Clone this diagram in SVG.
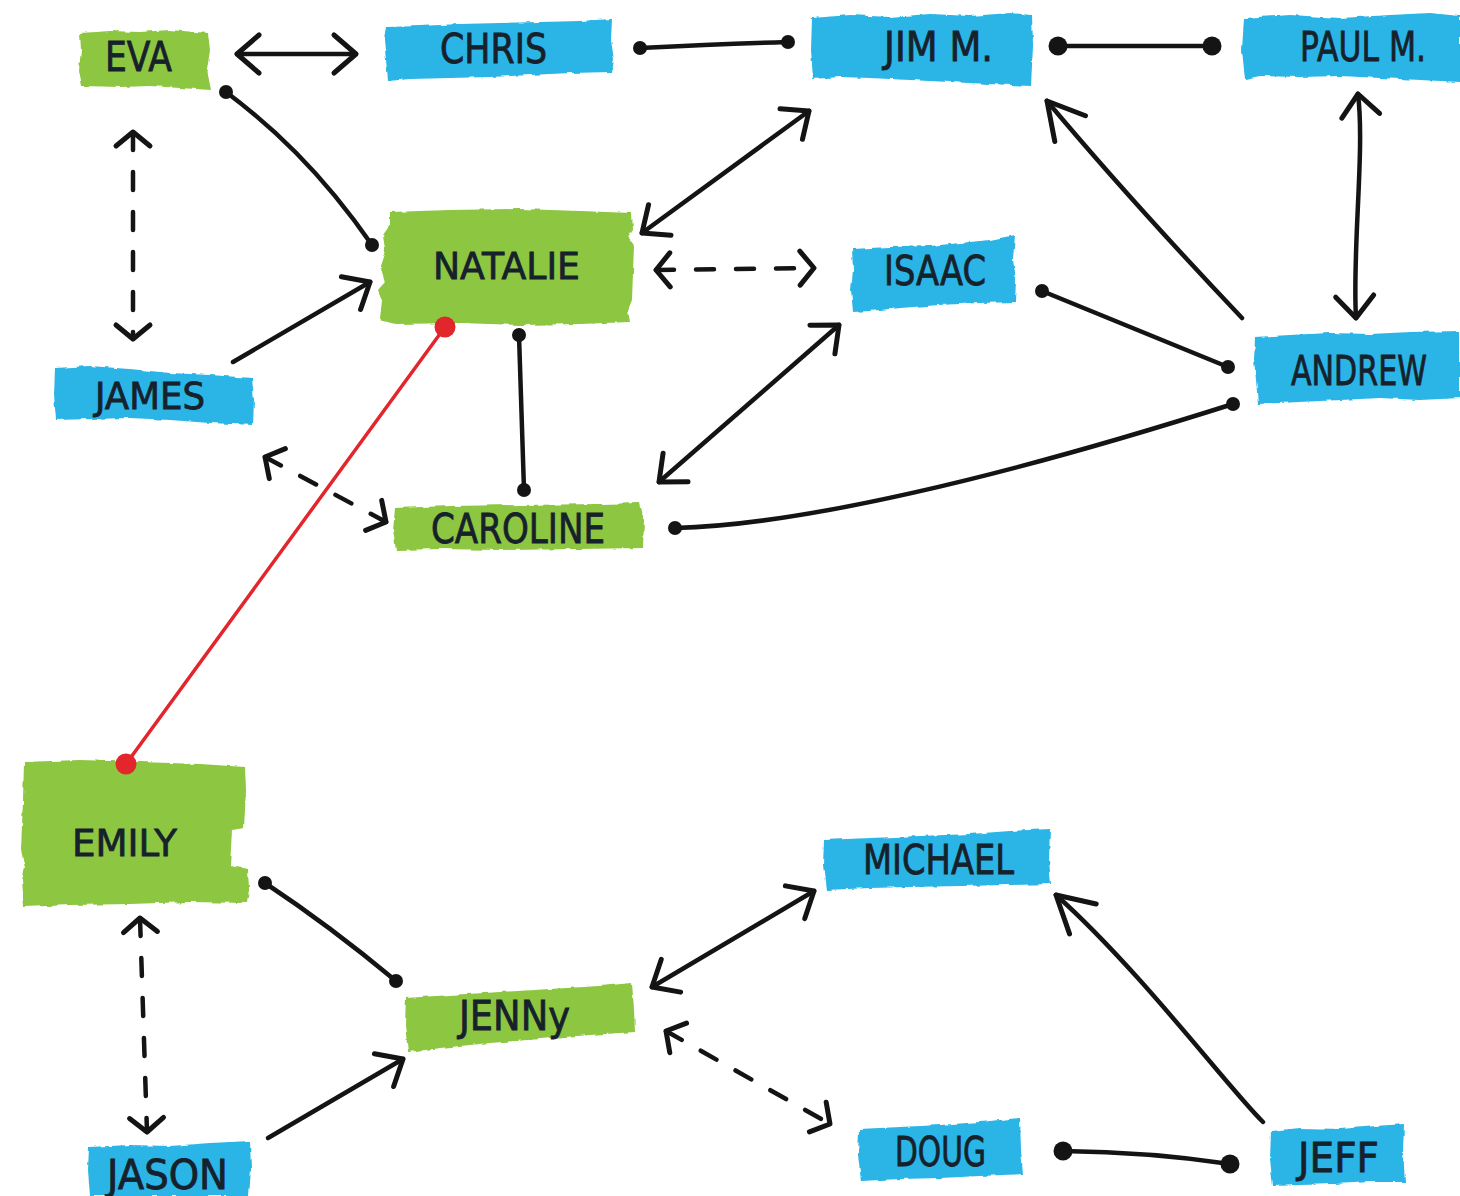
<svg xmlns="http://www.w3.org/2000/svg" width="1460" height="1196" viewBox="0 0 1460 1196">
  <defs>
    <style>
      .green { fill: #8dc63f; }
      .blue { fill: #2cb5e6; }
      .paint { filter: url(#rough); }
      .label { font-family: "DejaVu Sans", "Liberation Sans", sans-serif; font-size: 40px; fill: #16212c; stroke: #16212c; stroke-width: 0.8; }
      .link { fill: none; stroke: #141414; stroke-width: 4.5; stroke-linecap: round; stroke-linejoin: round; }
      .dash { stroke-dasharray: 18 22; }
      .red { fill: none; stroke: #e3262c; stroke-width: 3.5; stroke-linecap: round; }
    </style>
    <filter id="rough" x="-5%" y="-15%" width="110%" height="130%">
      <feTurbulence type="fractalNoise" baseFrequency="0.09" numOctaves="2" seed="4" result="n"/>
      <feDisplacementMap in="SourceGraphic" in2="n" scale="4" xChannelSelector="R" yChannelSelector="G"/>
    </filter>
    <!-- open chevron heads -->
    <marker id="arr" markerUnits="userSpaceOnUse" viewBox="-40 -30 50 60" markerWidth="50" markerHeight="60" refX="0" refY="0" orient="auto-start-reverse" overflow="visible">
      <path d="M-22,-19 L0,0 L-22,19" fill="none" stroke="#141414" stroke-width="5" stroke-linecap="round" stroke-linejoin="round"/>
    </marker>
    <marker id="arrS" markerUnits="userSpaceOnUse" viewBox="-40 -30 50 60" markerWidth="50" markerHeight="60" refX="0" refY="0" orient="auto-start-reverse" overflow="visible">
      <path d="M-14,-17 L0,0 L-14,17" fill="none" stroke="#141414" stroke-width="5" stroke-linecap="round" stroke-linejoin="round"/>
    </marker>
    <marker id="arrL" markerUnits="userSpaceOnUse" viewBox="-50 -30 60 60" markerWidth="60" markerHeight="60" refX="0" refY="0" orient="auto-start-reverse" overflow="visible">
      <path d="M-36,-20 L0,0 L-36,20" fill="none" stroke="#141414" stroke-width="5" stroke-linecap="round" stroke-linejoin="round"/>
    </marker>
    <!-- round end points -->
    <marker id="dot" markerUnits="userSpaceOnUse" viewBox="-12 -12 24 24" markerWidth="24" markerHeight="24" refX="0" refY="0" overflow="visible">
      <circle r="7" fill="#141414"/>
    </marker>
    <marker id="dotL" markerUnits="userSpaceOnUse" viewBox="-12 -12 24 24" markerWidth="24" markerHeight="24" refX="0" refY="0" overflow="visible">
      <circle r="9.5" fill="#141414"/>
    </marker>
    <marker id="rdot" markerUnits="userSpaceOnUse" viewBox="-12 -12 24 24" markerWidth="24" markerHeight="24" refX="0" refY="0" overflow="visible">
      <circle r="10.5" fill="#e3262c"/>
    </marker>
  </defs>

  <rect width="1460" height="1196" fill="#ffffff"/>

  <g id="node-eva">
    <path class="green paint" d="M80,33 L110,31 L140,32 L170,30 L208,33 L210,50 L207,70 L211,90 L180,88 L150,86 L120,87 L82,86 L79,70 L81,50 Z"/>
    <text class="label" x="105" y="71" textLength="67" lengthAdjust="spacingAndGlyphs">EVA</text>
  </g>
  <g id="node-chris">
    <path class="blue paint" d="M386,27 L420,26 L460,24 L500,23 L540,22 L580,21 L612,19 L611,40 L614,60 L612,72 L570,73 L530,75 L490,77 L450,78 L410,79 L388,81 L386,60 L384,40 Z"/>
    <text class="label" x="440" y="63" textLength="107" lengthAdjust="spacingAndGlyphs">CHRIS</text>
  </g>
  <g id="node-jim">
    <path class="blue paint" d="M812,18 L850,15 L890,17 L930,14 L970,16 L1010,13 L1032,15 L1033,45 L1031,86 L990,84 L950,82 L910,80 L870,78 L840,77 L813,79 L811,50 Z"/>
    <text class="label" x="884" y="61" textLength="109" lengthAdjust="spacingAndGlyphs">JIM M.</text>
  </g>
  <g id="node-paul">
    <path class="blue paint" d="M1244,18 L1290,15 L1340,18 L1390,15 L1430,13 L1460,16 L1460,82 L1420,80 L1380,78 L1340,76 L1300,77 L1260,76 L1245,79 L1242,50 Z"/>
    <text class="label" x="1300" y="61" textLength="126" lengthAdjust="spacingAndGlyphs">PAUL M.</text>
  </g>
  <g id="node-natalie">
    <path class="green paint" d="M390,212 L450,210 L520,209 L580,211 L632,213 L633,230 L628,238 L634,245 L632,300 L628,310 L630,322 L580,324 L520,325 L460,323 L395,324 L380,320 L382,300 L378,290 L385,282 L380,265 L385,250 L383,235 L390,225 Z"/>
    <text class="label" x="433" y="279" textLength="147" lengthAdjust="spacingAndGlyphs" style="font-size:38px">NATALIE</text>
  </g>
  <g id="node-isaac">
    <path class="blue paint" d="M852,249 L890,247 L930,246 L960,243 L990,240 L1015,235 L1013,260 L1016,280 L1015,302 L980,303 L940,305 L900,308 L870,311 L853,312 L851,290 L853,270 Z"/>
    <text class="label" x="884" y="285" textLength="102" lengthAdjust="spacingAndGlyphs">ISAAC</text>
  </g>
  <g id="node-james">
    <path class="blue paint" d="M55,368 L90,366 L130,369 L170,373 L210,375 L252,378 L254,400 L253,425 L210,423 L170,420 L130,418 L90,419 L56,420 L54,395 Z"/>
    <text class="label" x="95" y="409" textLength="110" lengthAdjust="spacingAndGlyphs" style="font-size:37px">JAMES</text>
  </g>
  <g id="node-andrew">
    <path class="blue paint" d="M1255,337 L1290,335 L1330,333 L1370,334 L1410,332 L1460,331 L1460,398 L1420,400 L1380,398 L1340,400 L1300,402 L1258,404 L1256,380 L1254,360 Z"/>
    <text class="label" x="1291" y="385" textLength="136" lengthAdjust="spacingAndGlyphs">ANDREW</text>
  </g>
  <g id="node-caroline">
    <path class="green paint" d="M395,508 L450,506 L520,505 L600,504 L640,503 L644,520 L643,548 L580,549 L500,550 L440,549 L396,550 L393,530 Z"/>
    <text class="label" x="431" y="543" textLength="174" lengthAdjust="spacingAndGlyphs">CAROLINE</text>
  </g>
  <g id="node-emily">
    <path class="green paint" d="M24,762 L80,760 L140,762 L200,764 L245,767 L246,790 L244,828 L232,830 L230,866 L248,869 L249,890 L247,903 L190,902 L130,904 L70,905 L24,907 L22,880 L25,868 L21,850 L23,800 Z"/>
    <text class="label" x="72" y="856" textLength="105" lengthAdjust="spacingAndGlyphs" style="font-size:38px">EMILY</text>
  </g>
  <g id="node-jenny">
    <path class="green paint" d="M406,998 L450,995 L500,992 L550,989 L600,986 L632,983 L634,1010 L635,1032 L590,1035 L540,1039 L490,1043 L440,1048 L408,1052 L405,1025 Z"/>
    <text class="label" x="459" y="1030" textLength="111" lengthAdjust="spacingAndGlyphs">JENNy</text>
  </g>
  <g id="node-michael">
    <path class="blue paint" d="M824,840 L870,838 L920,836 L970,834 L1010,831 L1050,829 L1049,860 L1051,884 L1010,885 L960,886 L910,887 L870,888 L826,890 L823,865 Z"/>
    <text class="label" x="863" y="874" textLength="151" lengthAdjust="spacingAndGlyphs">MICHAEL</text>
  </g>
  <g id="node-doug">
    <path class="blue paint" d="M859,1129 L900,1127 L940,1125 L980,1122 L1020,1118 L1021,1150 L1023,1174 L980,1176 L940,1178 L900,1179 L861,1181 L858,1155 Z"/>
    <text class="label" x="895" y="1166" textLength="91" lengthAdjust="spacingAndGlyphs">DOUG</text>
  </g>
  <g id="node-jeff">
    <path class="blue paint" d="M1271,1131 L1300,1128 L1340,1129 L1375,1126 L1404,1124 L1403,1150 L1405,1182 L1370,1182 L1335,1184 L1300,1185 L1273,1186 L1270,1160 Z"/>
    <text class="label" x="1298" y="1172" textLength="81" lengthAdjust="spacingAndGlyphs">JEFF</text>
  </g>
  <g id="node-jason">
    <path class="blue paint" d="M89,1147 L130,1145 L170,1146 L210,1143 L250,1141 L251,1170 L249,1196 L90,1196 L88,1170 Z"/>
    <text class="label" x="107" y="1189" textLength="121" lengthAdjust="spacingAndGlyphs">JASON</text>
  </g>

  <!-- links drawn over the painted labels so the red end dots sit on the edges -->
  <g id="connectors">
    <path class="link" d="M237,54 L356,54" marker-start="url(#arr)" marker-end="url(#arr)"/>
    <path class="link" d="M640,48 Q720,44 788,42" marker-start="url(#dot)" marker-end="url(#dot)"/>
    <path class="link" d="M1058,46 L1212,46" marker-start="url(#dotL)" marker-end="url(#dotL)"/>
    <path class="link" d="M226,92 C270,125 320,170 372,245" marker-start="url(#dot)" marker-end="url(#dot)"/>
    <path class="link dash" d="M133,132 L133,339" marker-start="url(#arrS)" marker-end="url(#arrS)"/>
    <path class="link" d="M233,362 L370,282" marker-end="url(#arr)"/>
    <path class="link" d="M809,111 L642,233" marker-start="url(#arr)" marker-end="url(#arr)"/>
    <path class="link dash" d="M656,270 L814,268" marker-start="url(#arrS)" marker-end="url(#arrS)"/>
    <path class="link" d="M519,335 L524,490" marker-start="url(#dot)" marker-end="url(#dot)"/>
    <path class="link dash" d="M265,457 L386,522" marker-start="url(#arrS)" marker-end="url(#arrS)"/>
    <path class="link" d="M839,325 L659,482" marker-start="url(#arr)" marker-end="url(#arr)"/>
    <path class="link" d="M675,528 C800,525 1000,478 1233,404" marker-start="url(#dot)" marker-end="url(#dot)"/>
    <path class="link" d="M1042,291 L1228,367" marker-start="url(#dot)" marker-end="url(#dot)"/>
    <path class="link" d="M1242,318 Q1130,200 1047,101" marker-end="url(#arrL)"/>
    <path class="link" d="M1358,94 C1365,150 1352,250 1356,318" marker-start="url(#arr)" marker-end="url(#arr)"/>
    <path class="red" d="M445,327 L126,764" marker-start="url(#rdot)" marker-end="url(#rdot)"/>
    <path class="link" d="M265,883 Q330,926 396,981" marker-start="url(#dot)" marker-end="url(#dot)"/>
    <path class="link dash" d="M140,918 L147,1132" marker-start="url(#arrS)" marker-end="url(#arrS)"/>
    <path class="link" d="M268,1138 L403,1059" marker-end="url(#arr)"/>
    <path class="link" d="M814,891 L652,987" marker-start="url(#arr)" marker-end="url(#arr)"/>
    <path class="link dash" d="M666,1031 L830,1124" marker-start="url(#arrS)" marker-end="url(#arrS)"/>
    <path class="link" d="M1263,1122 C1230,1090 1140,970 1056,895" marker-end="url(#arrL)"/>
    <path class="link" d="M1063,1151 Q1150,1152 1230,1164" marker-start="url(#dotL)" marker-end="url(#dotL)"/>
  </g>
</svg>
